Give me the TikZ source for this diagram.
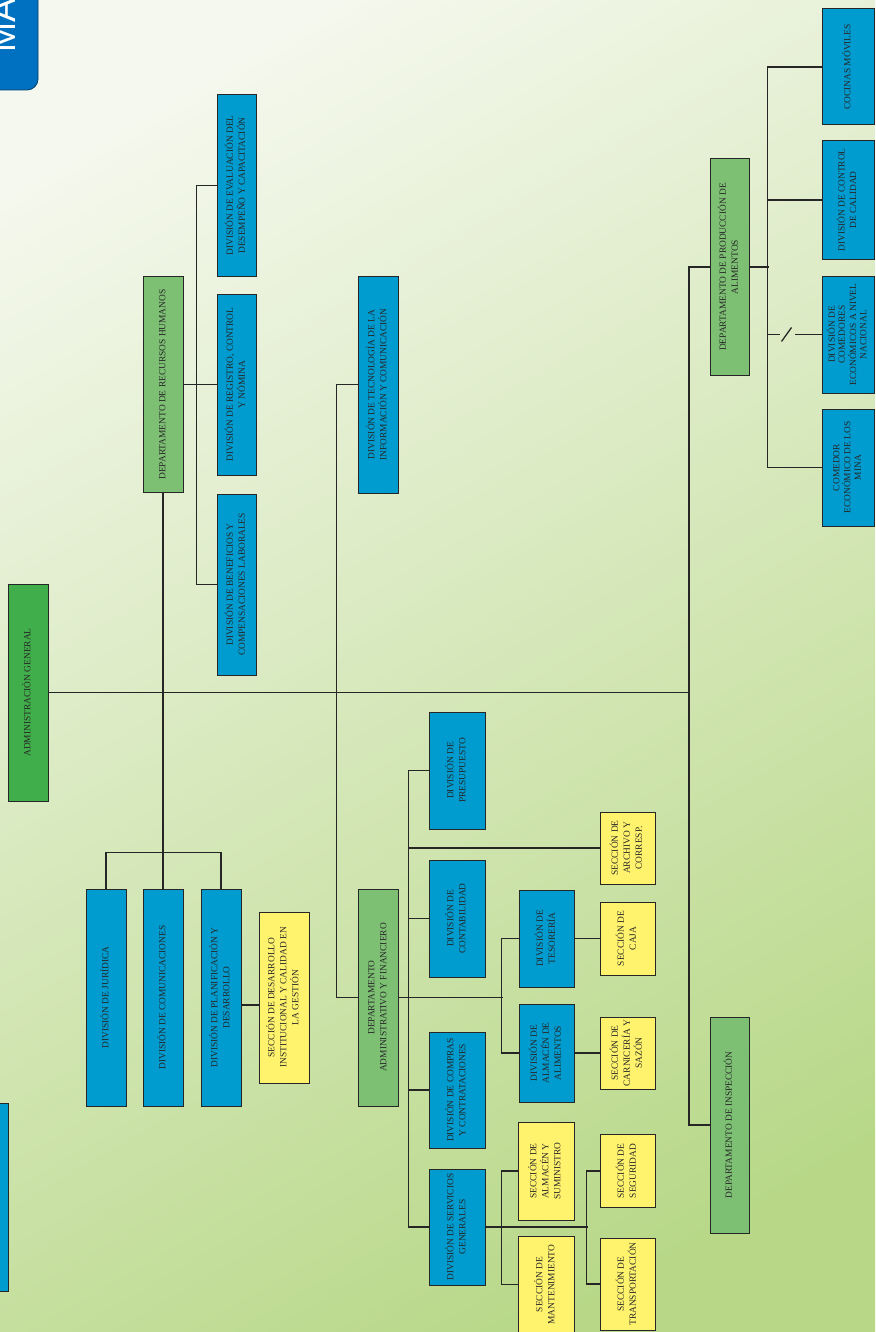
\documentclass[tikz,border=0pt]{standalone}
\usepackage{fontspec}
\setmainfont{Liberation Serif}
\newfontfamily\titlefont{Liberation Sans}
\usepackage{graphicx}
\definecolor{bgT}{RGB}{245,248,238}
\definecolor{bgM}{RGB}{214,231,188}
\definecolor{bgB}{RGB}{184,216,136}
\definecolor{blueB}{RGB}{0,155,207}
\definecolor{greenD}{RGB}{125,192,116}
\definecolor{greenA}{RGB}{64,174,74}
\definecolor{yellowS}{RGB}{255,243,110}
\definecolor{tabB}{RGB}{0,112,192}
\tikzset{
  orgnode/.style={draw=black!85, line width=1pt, inner sep=0pt, text=black!85,
    font=\fontsize{9.4}{12}\selectfont},
  bluebox/.style={orgnode, fill=blueB},
  deptbox/.style={orgnode, fill=greenD},
  adminbox/.style={orgnode, fill=greenA},
  secbox/.style={orgnode, fill=yellowS},
  tabbox/.style={fill=tabB, draw=black!45!tabB, line width=0.8pt},
  link/.style={draw=black!85, line width=1.3pt},
}
\newcommand{\orgbox}[7]{\node[#2, minimum width=#5pt, minimum height=#6pt] (#1) at (#3,#4) {\rotatebox{90}{\begin{tabular}{@{}c@{}}#7\end{tabular}}};}
\begin{document}
\begin{tikzpicture}[x=1pt,y=-1pt]
\path[use as bounding box] (0,0) rectangle (875,1332);
\clip (0,0) rectangle (875,1332);
\shade[top color=bgT, middle color=bgM, bottom color=bgB, shading angle=30] (-50,-50) rectangle (925,1382);

% title tab
\node[tabbox, minimum width=50pt, minimum height=102pt, rounded corners=11pt] (tab) at (13,39) {};
\node[text=white, font=\titlefont\fontsize{36}{36}\selectfont, rotate=90, anchor=base west, inner sep=0pt] (ttl) at (16,53) {MA};

% boxes
\orgbox{admin}{adminbox}{28}{692.5}{40}{217}{ADMINISTRACIÓN GENERAL}
\orgbox{leftb}{bluebox}{1}{1197}{14}{188}{}
\orgbox{rrhh}{deptbox}{163}{384.5}{40}{216}{DEPARTAMENTO DE RECURSOS HUMANOS}
\orgbox{eva}{bluebox}{236.5}{185.5}{39}{181}{DIVISIÓN DE EVALUACIÓN DEL\\DESEMPEÑO Y CAPACITACIÓN}
\orgbox{reg}{bluebox}{236.5}{384.5}{39}{181}{DIVISIÓN DE REGISTRO, CONTROL\\Y NÓMINA}
\orgbox{ben}{bluebox}{236.5}{584.5}{39}{181}{DIVISIÓN DE BENEFICIOS Y\\COMPENSACIONES LABORALES}
\orgbox{tic}{bluebox}{378}{384.5}{40}{217}{DIVISIÓN DE TECNOLOGÍA DE LA\\INFORMACIÓN Y COMUNICACIÓN}
\orgbox{jur}{bluebox}{106}{997.5}{40}{217}{DIVISIÓN DE JURÍDICA}
\orgbox{com}{bluebox}{163}{997.5}{40}{217}{DIVISIÓN DE COMUNICACIONES}
\orgbox{plan}{bluebox}{221}{997.5}{40}{217}{DIVISIÓN DE PLANIFICACIÓN Y\\DESARROLLO}
\orgbox{sdes}{secbox}{284}{997.5}{50}{171}{SECCIÓN DE DESARROLLO\\INSTITUCIONAL Y CALIDAD EN\\LA GESTIÓN}
\orgbox{daf}{deptbox}{378}{997.5}{40}{217}{DEPARTAMENTO\\ADMINISTRATIVO Y FINANCIERO}
\orgbox{pres}{bluebox}{457}{770.5}{56}{117}{DIVISIÓN DE\\PRESUPUESTO}
\orgbox{cont}{bluebox}{457}{918.5}{56}{117}{DIVISIÓN DE\\CONTABILIDAD}
\orgbox{comp}{bluebox}{457}{1090}{56}{116}{DIVISIÓN DE COMPRAS\\Y CONTRATACIONES}
\orgbox{serv}{bluebox}{457}{1227}{56}{116}{DIVISIÓN DE SERVICIOS\\GENERALES}
\orgbox{arch}{secbox}{627.5}{848}{55}{72}{SECCIÓN DE\\ARCHIVO Y\\CORRESP.}
\orgbox{tes}{bluebox}{546.5}{938.5}{55}{97}{DIVISIÓN DE\\TESORERÍA}
\orgbox{caja}{secbox}{627.5}{938.5}{55}{73}{SECCIÓN DE\\CAJA}
\orgbox{alm}{bluebox}{546.5}{1053}{55}{98}{DIVISIÓN DE\\ALMACÉN DE\\ALIMENTOS}
\orgbox{carn}{secbox}{627.5}{1053}{55}{72}{SECCIÓN DE\\CARNICERÍA Y\\SAZÓN}
\orgbox{asum}{secbox}{546}{1171}{56}{98}{SECCIÓN DE\\ALMACÉN Y\\SUMINISTRO}
\orgbox{mant}{secbox}{546}{1284.5}{56}{97}{SECCIÓN DE\\MANTENIMIENTO}
\orgbox{seg}{secbox}{627.5}{1171}{55}{73}{SECCIÓN DE\\SEGURIDAD}
\orgbox{trans}{secbox}{627.5}{1284}{55}{92}{SECCIÓN DE\\TRANSPORTACIÓN}
\orgbox{prod}{deptbox}{729.5}{267}{39}{216}{DEPARTAMENTO DE PRODUCCIÓN DE\\ALIMENTOS}
\orgbox{insp}{deptbox}{729.5}{1125}{39}{216}{DEPARTAMENTO DE INSPECCIÓN}
\orgbox{coc}{bluebox}{848}{67}{52}{116}{COCINAS MÓVILES}
\orgbox{cal}{bluebox, font=\fontsize{9.4}{11.5}\selectfont}{848}{200}{52}{118}{DIVISIÓN DE CONTROL\\DE CALIDAD}
\orgbox{come}{bluebox, font=\fontsize{9.4}{10.2}\selectfont}{848}{334.5}{52}{117}{DIVISIÓN DE\\COMEDORES\\ECONÓMICOS A NIVEL\\NACIONAL}
\orgbox{mina}{bluebox, font=\fontsize{9.4}{10.4}\selectfont}{848}{467.5}{52}{117}{COMEDOR\\ECONÓMICO DE LOS\\MINA}

% connectors
\coordinate (jR) at (689,692.5);
\draw[link] (admin.east) -- (jR);
\draw[link] (prod.west) -| (jR) |- (insp.west);
\draw[link] (rrhh.south) -- (com.north);
\draw[link] (jur.north) -- ++(0,-36) -| (plan.north);
\draw[link] (rrhh.east) -- (reg.west);
\draw[link] (eva.west) -- ++(-20,0) |- (ben.west);
\draw[link] (tic.west) -- ++(-21,0) |- (daf.west);
\draw[link] (pres.west) -- ++(-20,0) |- (serv.west);
\draw[link] (cont.west) -- ++(-20,0);
\draw[link] (comp.west) -- ++(-20,0);
\draw[link] (arch.west) -- ++(-191,0);
\draw[link] (daf.east) -- ++(104,0);
\draw[link] (tes.west) -- ++(-17,0) |- (alm.west);
\draw[link] (tes.east) -- (caja.west);
\draw[link] (alm.east) -- (carn.west);
\draw[link] (serv.east) -- ++(102,0);
\draw[link] (asum.west) -- ++(-16,0) |- (mant.west);
\draw[link] (seg.west) -- ++(-13,0) |- (trans.west);
\draw[link] ([yshift=-7.5pt]plan.east) -- ([yshift=-7.5pt]plan.east -| sdes.west);
\draw[link] (prod.east) -- ++(19,0);
\draw[link] (coc.west) -- ++(-54,0) |- (mina.west);
\draw[link] (cal.west) -- ++(-54,0);
\draw[link] (come.west) -- ++(-27,0);
\draw[link] (come.west) ++(-54,0) -- ++(12,0);
\draw[link] (come.west) ++(-40,7) -- ++(10,-14);
\end{tikzpicture}
\end{document}
